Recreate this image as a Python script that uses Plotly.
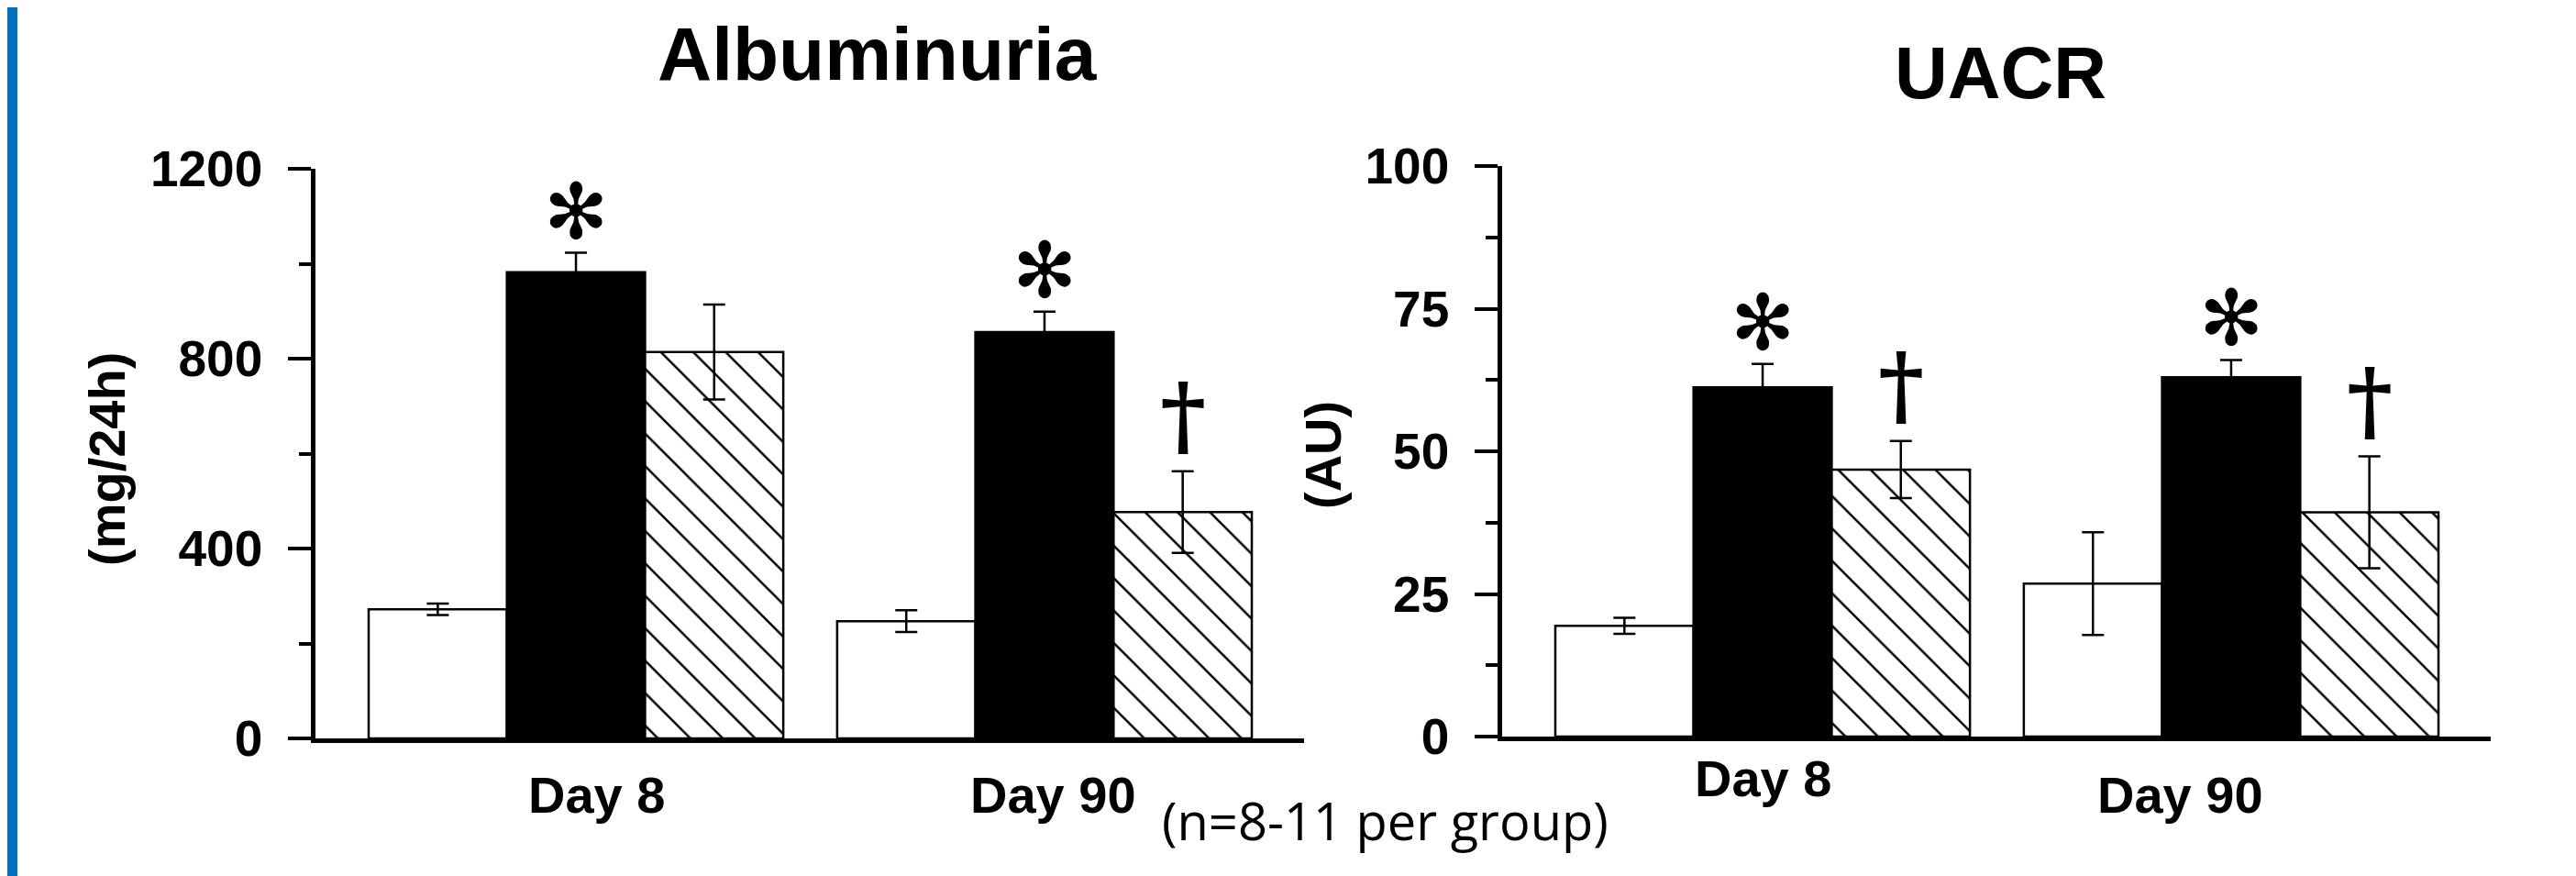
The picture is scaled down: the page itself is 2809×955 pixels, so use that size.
import plotly.graph_objects as go

# ---------------- data ----------------
categories = ["Day 8", "Day 90"]

alb_white = [272, 247]
alb_white_err = [12, 23]
alb_black = [982, 856]
alb_black_err = [41, 43]
alb_hatch = [814, 477]
alb_hatch_err = [100, 86]

uacr_white = [19.4, 26.8]
uacr_white_err = [1.4, 9.0]
uacr_black = [61.2, 63.0]
uacr_black_err = [4.1, 3.0]
uacr_hatch = [46.8, 39.3]
uacr_hatch_err = [5.0, 9.8]

alb_ticks = [0, 400, 800, 1200]
alb_minor = [200, 600, 1000]
uacr_ticks = [0, 25, 50, 75, 100]
uacr_minor = [12.5, 37.5, 62.5, 87.5]

alb_marks_black = ["✻", "✻"]
alb_marks_hatch = ["", "†"]
uacr_marks_black = ["✻", "✻"]
uacr_marks_hatch = ["†", "†"]

# ---------------- styling ----------------
PAGE_W, PAGE_H = 2809, 955
OFF = 8  # default body margin of the written page
W, H = PAGE_W - OFF, PAGE_H - OFF


def px(X):
    return (X - OFF) / W


def py(Y):
    return 1 - (Y - OFF) / H


BARGAP = 0.115
BW = (1 - BARGAP) / 3
XRANGE = [-0.556, 1.554]
BOLD = dict(family="Liberation Sans, Arial, sans-serif", color="black", weight="bold")
xpos = list(range(len(categories)))

fig = go.Figure()


def add_panel(white, werr, black, berr, hatch, herr, xa, ya):
    common = dict(x=xpos, xaxis=xa, yaxis=ya, showlegend=False)
    eb = dict(type="data", color="black", thickness=2.5, width=12, visible=True)
    fig.add_trace(go.Bar(y=white, name="white",
                         marker=dict(color="white", line=dict(color="black", width=2.5)),
                         error_y=dict(array=werr, **eb), **common))
    fig.add_trace(go.Bar(y=black, name="black",
                         marker=dict(color="black", line=dict(color="black", width=2.5)),
                         error_y=dict(array=berr, **eb), **common))
    fig.add_trace(go.Bar(y=hatch, name="hatched",
                         marker=dict(color="white", line=dict(color="black", width=2.5),
                                     pattern=dict(shape="\\", size=25, solidity=0.1,
                                                  fgcolor="black", bgcolor="white")),
                         error_y=dict(array=herr, **eb), **common))


add_panel(alb_white, alb_white_err, alb_black, alb_black_err, alb_hatch, alb_hatch_err, "x", "y")
add_panel(uacr_white, uacr_white_err, uacr_black, uacr_black_err, uacr_hatch, uacr_hatch_err, "x2", "y2")


def yaxis(domain, rng, ticks, minor, anchor):
    return dict(domain=domain, range=rng, anchor=anchor, tickvals=ticks,
                ticks="outside", ticklen=25, tickwidth=4, tickcolor="black",
                minor=dict(tickvals=minor, ticks="outside", ticklen=13, tickwidth=4, tickcolor="black"),
                showline=True, linewidth=4.5, linecolor="black", showgrid=False, zeroline=False,
                tickfont=dict(size=55, **BOLD), ticklabelstandoff=17, automargin=False)


def xaxis(domain, anchor):
    return dict(domain=domain, range=XRANGE, anchor=anchor, showline=True, linewidth=5,
                linecolor="black", showgrid=False, zeroline=False, showticklabels=False, ticks="",
                automargin=False)


annotations = []


def marks(xref, yref, vals, errs, symbols, offset):
    for i, s in enumerate(symbols):
        if not s:
            continue
        if s == "✻":
            f = dict(family="DejaVu Sans", size=84, color="black")
            shift = -6
        else:
            f = dict(family="DejaVu Serif", size=96, color="black", weight="bold")
            shift = 3
        annotations.append(dict(x=xpos[i] + offset, y=vals[i] + errs[i], xref=xref, yref=yref,
                                text=s, showarrow=False, xanchor="center", yanchor="bottom",
                                yshift=shift, font=f))


marks("x", "y", alb_black, alb_black_err, alb_marks_black, 0)
marks("x", "y", alb_hatch, alb_hatch_err, alb_marks_hatch, BW)
marks("x2", "y2", uacr_black, uacr_black_err, uacr_marks_black, 0)
marks("x2", "y2", uacr_hatch, uacr_hatch_err, uacr_marks_hatch, BW)

# category labels (placed on the data x scale)
label_offsets_left = [0.043, 0.018]
label_offsets_right = [0.0, -0.108]
label_y_left = [866, 866]
label_y_right = [848, 866]
for i, c in enumerate(categories):
    annotations.append(dict(x=xpos[i] + label_offsets_left[i], y=py(label_y_left[i]), xref="x", yref="paper",
                            text=c, showarrow=False, xanchor="center", yanchor="middle",
                            font=dict(size=56, **BOLD)))
    annotations.append(dict(x=xpos[i] + label_offsets_right[i], y=py(label_y_right[i]), xref="x2", yref="paper",
                            text=c, showarrow=False, xanchor="center", yanchor="middle",
                            font=dict(size=56, **BOLD)))

# titles
annotations.append(dict(x=px(957), y=py(58), xref="paper", yref="paper", text="Albuminuria",
                        showarrow=False, xanchor="center", yanchor="middle", font=dict(size=82, **BOLD)))
annotations.append(dict(x=px(2181), y=py(79), xref="paper", yref="paper", text="UACR",
                        showarrow=False, xanchor="center", yanchor="middle", font=dict(size=80, **BOLD)))
# y titles
annotations.append(dict(x=px(116), y=py(500), xref="paper", yref="paper", text="(mg/24h)",
                        textangle=-90, showarrow=False, xanchor="center", yanchor="middle",
                        font=dict(size=56, **BOLD)))
annotations.append(dict(x=px(1442), y=py(496), xref="paper", yref="paper", text="(AU)",
                        textangle=-90, showarrow=False, xanchor="center", yanchor="middle",
                        font=dict(size=56, **BOLD)))
# footnote
annotations.append(dict(x=px(1510), y=py(894), xref="paper", yref="paper", text="(n=8-11 per group)",
                        showarrow=False, xanchor="center", yanchor="middle",
                        font=dict(family="Open Sans, DejaVu Sans, sans-serif", size=56, color="black")))

fig.update_layout(
    template="none",
    width=W, height=H, autosize=False,
    margin=dict(l=0, r=0, t=0, b=0, pad=0, autoexpand=False),
    paper_bgcolor="white", plot_bgcolor="white",
    barmode="group", bargap=BARGAP, bargroupgap=0,
    xaxis=xaxis([px(344), px(1422)], "y"),
    yaxis=yaxis([py(805), py(184)], [0, 1200], alb_ticks, alb_minor, "x"),
    xaxis2=xaxis([px(1638), px(2716)], "y2"),
    yaxis2=yaxis([py(803), py(181)], [0, 100], uacr_ticks, uacr_minor, "x2"),
    annotations=annotations,
    shapes=[dict(type="rect", xref="paper", yref="paper", x0=0, x1=px(19), y0=0, y1=1,
                 fillcolor="#0070C0", line=dict(width=0), layer="above")],
)

fig.write_html("out.html")
